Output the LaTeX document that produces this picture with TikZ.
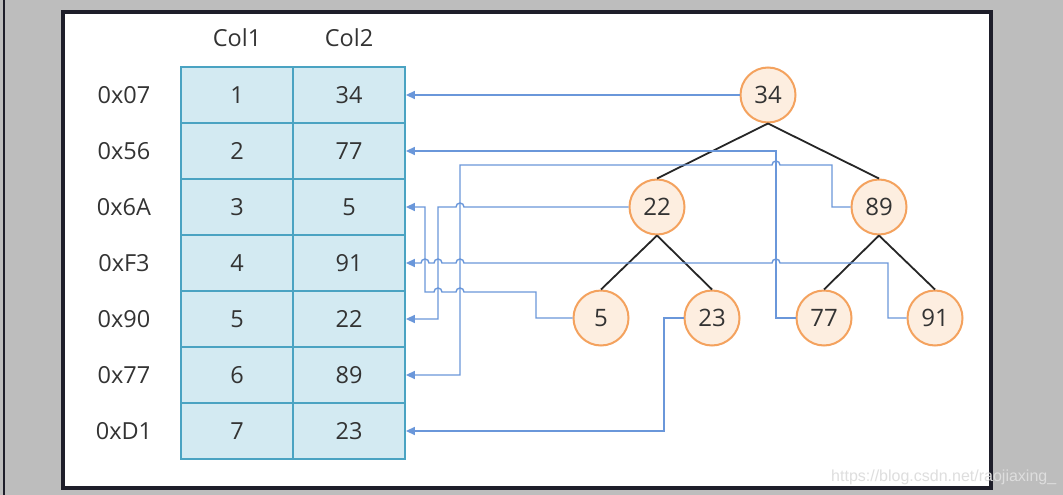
\documentclass[tikz,border=0pt]{standalone}
\usepackage{fontspec}
\setmainfont{Open Sans}
\newfontfamily\wmfont{Liberation Sans}
\usetikzlibrary{arrows.meta}
\definecolor{bgray}{HTML}{BDBDBD}
\definecolor{framec}{HTML}{1E1E2A}
\definecolor{cellfill}{HTML}{D3EAF2}
\definecolor{cellline}{HTML}{4AA3C2}
\definecolor{connc}{HTML}{6A97DA}
\definecolor{nodefill}{HTML}{FDEEE0}
\definecolor{nodeline}{HTML}{F4A25E}
\definecolor{txt}{HTML}{333333}
\begin{document}
\begin{tikzpicture}[x=1pt,y=-1pt,
 cell/.style={draw=cellline,fill=cellfill,line width=1.8pt,minimum width=112pt,minimum height=56pt,inner sep=0pt,text=txt,font=\fontsize{23.5}{26}\selectfont},
 lab/.style={text=txt,font=\fontsize{23.5}{26}\selectfont,inner sep=0pt},
 tnode/.style={circle,draw=nodeline,fill=nodefill,line width=2pt,minimum size=55pt,inner sep=0pt,text=txt,font=\fontsize{24}{26}\selectfont},
 tedge/.style={draw=black!85,line width=1.8pt},
 link/.style={draw=connc,line width=1.4pt,-{Triangle[length=9pt,width=8pt]}},
 hop/.style={start angle=0,end angle=180,radius=4pt}]
\useasboundingbox (0,0) rectangle (1063,495);
\fill[bgray] (0,0) rectangle (1063,495);
\draw[framec,line width=1.5pt] (4,0) -- (4,495);
\draw[framec,line width=4pt,fill=white] (63,12) rectangle (991,488);
% headers
\node[lab] (h1) at (237,38) {Col1};
\node[lab] (h2) at (349,38) {Col2};
% table
\foreach \i/\a/\v/\h in {1/1/34/0x07,2/2/77/0x56,3/3/5/0x6A,4/4/91/0xF3,5/5/22/0x90,6/6/89/0x77,7/7/23/0xD1}{
  \node[cell] (a\i) at (237,{39+56*\i}) {\a};
  \node[cell] (b\i) at (349,{39+56*\i}) {\v};
  \node[lab] (r\i) at (124,{39+56*\i}) {\h};
}
% tree
\node[tnode] (t34) at (768,95) {34};
\node[tnode] (t22) at (657,207) {22};
\node[tnode] (t89) at (879,207) {89};
\node[tnode] (t5) at (601,318) {5};
\node[tnode] (t23) at (712,318) {23};
\node[tnode] (t77) at (824,318) {77};
\node[tnode] (t91) at (935,318) {91};
\draw[tedge] (t34.south) -- (t22.north);
\draw[tedge] (t34.south) -- (t89.north);
\draw[tedge] (t22.south) -- (t5.north);
\draw[tedge] (t22.south) -- (t23.north);
\draw[tedge] (t89.south) -- (t77.north);
\draw[tedge] (t89.south) -- (t91.north);
% links
\draw[link] (t34.west) -- (b1.east);
\draw[link] (t77.west) -- (776,318) |- (b2.east);
\draw[link] (t89.west) -| (832,165) -- (780,165) arc[hop] -- (460,165) |- (b6.east);
\draw[link] (t22.west) -- (464,207) arc[hop] -- (438,207) |- (b5.east);
\draw[link] (t5.west) -| (536,292) -- (464,292) arc[hop] -- (442,292) arc[hop] -- (425,292) |- (b3.east);
\draw[link] (t91.west) -| (888,263) -- (780,263) arc[hop] -- (464,263) arc[hop] -- (442,263) arc[hop] -- (429,263) arc[hop] -- (b4.east);
\draw[link] (t23.west) -| (664,431) -- (b7.east);
% watermark
\node[anchor=base west,inner sep=0pt,text=black!13,font=\wmfont\fontsize{16}{18}\selectfont] (wm) at (831,481) {https://blog.csdn.net/raojiaxing\_};
\end{tikzpicture}
\end{document}
